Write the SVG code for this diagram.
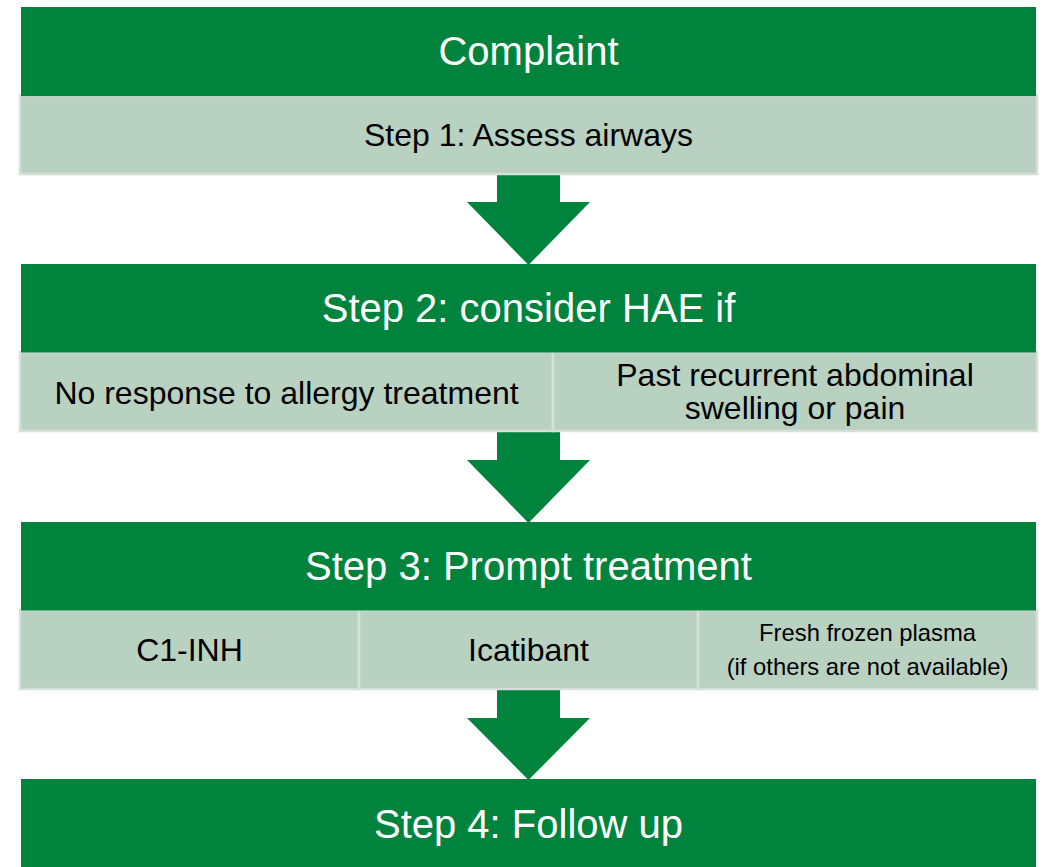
<svg xmlns="http://www.w3.org/2000/svg" width="1043" height="867" viewBox="0 0 1043 867">
<style>
.hdr{fill:#00843d}
.cell{fill:#b9d1c1;stroke:#d5e0d9;stroke-width:2.5}
.arrow{fill:#00843d}
.ht{font-family:"Liberation Sans",Arial,sans-serif;font-size:40px;fill:#ffffff;text-anchor:middle}
.ct{font-family:"Liberation Sans",Arial,sans-serif;font-size:32px;fill:#000000;text-anchor:middle}
.st{font-family:"Liberation Sans",Arial,sans-serif;font-size:23.8px;fill:#000000;text-anchor:middle}
</style>
<rect width="1043" height="867" fill="#ffffff"/>
<g id="connectors">
<polygon class="arrow" points="497,172 560,172 560,202 590,202 528.5,265 467,202 497,202"/>
<polygon class="arrow" points="497,430 560,430 560,460 590,460 528.5,523 467,460 497,460"/>
<polygon class="arrow" points="497,688 560,688 560,718 590,718 528.5,780 467,718 497,718"/>
</g>
<g id="step1-cell">
<rect class="cell" x="20" y="95" width="1017" height="79"/>
<text class="ct" x="528.5" y="146">Step 1: Assess airways</text>
</g>
<g id="complaint">
<rect class="hdr" x="21" y="7" width="1015" height="89"/>
<text class="ht" x="528.5" y="65">Complaint</text>
</g>
<g id="step2-cell-a">
<rect class="cell" x="20" y="352" width="533" height="79"/>
<text class="ct" x="286.5" y="404">No response to allergy treatment</text>
</g>
<g id="step2-cell-b">
<rect class="cell" x="553" y="352" width="484" height="79"/>
<text class="ct" x="795" y="386">Past recurrent abdominal</text>
<text class="ct" x="795" y="419">swelling or pain</text>
</g>
<g id="step2">
<rect class="hdr" x="21" y="264" width="1015" height="88.5"/>
<text class="ht" x="528.5" y="322">Step 2: consider HAE if</text>
</g>
<g id="step3-cell-a">
<rect class="cell" x="20" y="610" width="339" height="79"/>
<text class="ct" x="189.5" y="661">C1-INH</text>
</g>
<g id="step3-cell-b">
<rect class="cell" x="359" y="610" width="339" height="79"/>
<text class="ct" x="528.5" y="661">Icatibant</text>
</g>
<g id="step3-cell-c">
<rect class="cell" x="698" y="610" width="339" height="79"/>
<text class="st" x="867.5" y="641">Fresh frozen plasma</text>
<text class="st" x="867.5" y="675">(if others are not available)</text>
</g>
<g id="step3">
<rect class="hdr" x="21" y="522" width="1015" height="88.5"/>
<text class="ht" x="528.5" y="580">Step 3: Prompt treatment</text>
</g>
<g id="step4">
<rect class="hdr" x="21" y="779" width="1015" height="88"/>
<text class="ht" x="528.5" y="838">Step 4: Follow up</text>
</g>
</svg>
